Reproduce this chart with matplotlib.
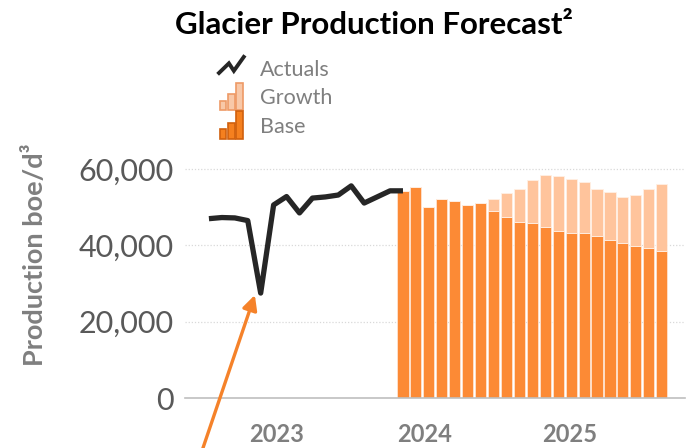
import matplotlib
matplotlib.use("Agg")
import matplotlib.pyplot as plt
import numpy as np
from matplotlib.legend_handler import HandlerBase
from matplotlib.patches import Rectangle, Patch
from matplotlib.lines import Line2D

plt.rcParams['font.family'] = ['Lato', 'DejaVu Sans']

# monthly actuals (boe/d), one point per month starting Jan 2023
actuals = [47000, 47300, 47200, 46500, 27500, 50600, 52800, 48500,
           52400, 52700, 53200, 55600, 51100, 52700, 54300, 54300]
# forecast bars start at the last actuals month
base = [54300, 55200, 50100, 52200, 51600, 50500, 51100, 49100, 47400,
        46100, 45900, 44700, 43800, 43200, 43200, 42400, 41400, 40500,
        39800, 39200, 38600]
growth = [0, 0, 0, 0, 0, 0, 0, 3000, 6300, 8700, 11300, 13700, 14300,
          14200, 13400, 12400, 12600, 12300, 13500, 15700, 17400]
year_labels = ['2023', '2024', '2025']
year_ticks = [5.2, 16.7, 27.9]
y_ticks = [0, 20000, 40000, 60000]

c_base = '#FC8A35'
c_growth = '#FFC49C'
c_line = '#262626'
c_grey = '#7F7F7F'


class BarIcon(HandlerBase):
    def create_artists(self, legend, orig_handle, xdescent, ydescent,
                       width, height, fontsize, trans):
        fc = orig_handle.get_facecolor()
        ec = orig_handle.get_edgecolor()
        out = []
        w = width / 3.0
        y0 = -ydescent - 0.12 * height
        for i, h in enumerate([0.45, 0.75, 1.3]):
            r = Rectangle((-xdescent + i * w + w * 0.12, y0), w * 0.76,
                          height * h, facecolor=fc, edgecolor=ec, lw=1.2,
                          transform=trans)
            out.append(r)
        return out


class LineIcon(HandlerBase):
    def create_artists(self, legend, orig_handle, xdescent, ydescent,
                       width, height, fontsize, trans):
        xs = np.array([0.0, 0.4, 0.6, 1.0]) * width - xdescent
        ys = np.array([0.3, 0.75, 0.4, 1.05]) * height - ydescent
        ln = Line2D(xs, ys, color=c_line, lw=2.8, transform=trans,
                    solid_joinstyle='miter')
        return [ln]


fig = plt.figure(figsize=(6.92, 4.48), dpi=100)
ax = fig.add_axes([185 / 692, 1 - 398 / 448, 500 / 692, 248 / 448])

x_act = np.arange(len(actuals))
x_bar = np.arange(len(base)) + len(actuals) - 1

ax.bar(x_bar, base, width=0.86, color=c_base, edgecolor='#FFE3CF', lw=0.6, zorder=2)
ax.bar(x_bar, growth, bottom=base, width=0.86, color=c_growth,
       edgecolor='#FFF0E4', lw=0.6, zorder=2)
ax.plot(x_act, actuals, color=c_line, lw=3.8, solid_joinstyle='round',
        solid_capstyle='butt', zorder=3)

ax.set_xlim(-1.85, 36.8)
ax.set_ylim(0, 65000)
ax.set_yticks(y_ticks)
ax.set_yticklabels(['{:,}'.format(v) for v in y_ticks])
ax.set_xticks(year_ticks)
ax.set_xticklabels(year_labels)
ax.tick_params(axis='y', length=0, pad=8, labelsize=22, labelcolor='#595959')
ax.tick_params(axis='x', length=0, pad=18, labelsize=17, labelcolor=c_grey)
for t in ax.get_xticklabels():
    t.set_fontweight('bold')

for v in y_ticks[1:]:
    ax.axhline(v, color='#D9D9D9', lw=0.9, ls=(0, (1, 1.5)), zorder=1)
for s in ['top', 'right', 'left']:
    ax.spines[s].set_visible(False)
ax.spines['bottom'].set_color('#BFBFBF')
ax.spines['bottom'].set_linewidth(1.2)

ax.set_ylabel('Production boe/d³', fontsize=19.5, fontweight='bold', color=c_grey)
ax.yaxis.set_label_coords(-0.276, 0.577)

fig.text(374 / 692, 1 - 25 / 448, 'Glacier Production Forecast²', ha='center',
         va='center', fontsize=22.5, fontweight='bold', color='black')

# arrow pointing at the dip
ax.annotate('', xy=(3.55, 27000), xytext=(-0.5, -13500),
            arrowprops=dict(arrowstyle='-|>', color='#F5822A', lw=2.4,
                            mutation_scale=22, shrinkA=0, shrinkB=0),
            annotation_clip=False)

h_act = Line2D([], [], color=c_line)
h_growth = Patch(facecolor='#F8C8A8', edgecolor='#EE9A66')
h_base = Patch(facecolor='#F5801F', edgecolor='#D0600E')
fig.legend([h_act, h_growth, h_base], ['Actuals', 'Growth', 'Base'],
           handler_map={Line2D: LineIcon(), Patch: BarIcon()},
           loc='upper left', bbox_to_anchor=(219 / 692, 1 - 58 / 448),
           frameon=False, fontsize=15.5, labelcolor=c_grey,
           handlelength=1.15, handleheight=1.15, handletextpad=0.75,
           labelspacing=0.3, borderpad=0, borderaxespad=0)

fig.savefig('out.png', dpi=100)
